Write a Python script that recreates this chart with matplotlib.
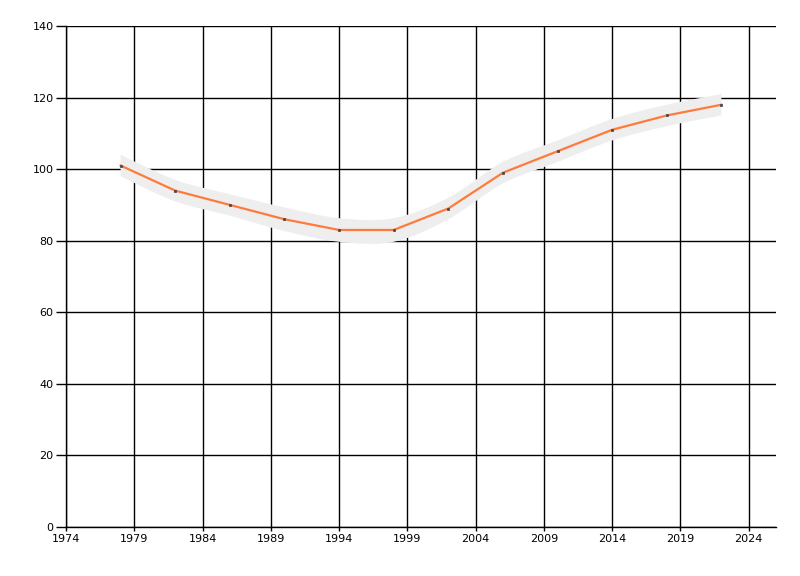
import matplotlib
matplotlib.use("Agg")
import matplotlib.pyplot as plt
from matplotlib.path import Path
from matplotlib.patches import PathPatch
import numpy as np

years = [1978, 1982, 1986, 1990, 1994, 1998, 2002, 2006, 2010, 2014, 2018, 2022]
values = [101, 94, 90, 86, 83, 83, 89, 99, 105, 111, 115, 118]
upper = [104, 97, 93, 89.3, 86.3, 86.3, 92, 102, 108, 114, 118, 121]
lower = [98, 91, 87, 82.7, 79.7, 79.7, 86, 96, 102, 108, 112, 115]
x_ticks = [1974, 1979, 1984, 1989, 1994, 1999, 2004, 2009, 2014, 2019, 2024]
y_ticks = [0, 20, 40, 60, 80, 100, 120, 140]


def smooth_verts(xs, ys, tension=0.5):
    """Cardinal spline through points expressed as cubic Bezier control points."""
    pts = list(zip(xs, ys))
    n = len(pts)
    verts = [pts[0]]
    codes = [Path.MOVETO]
    for i in range(n - 1):
        p0 = pts[i - 1] if i > 0 else pts[i]
        p1 = pts[i]
        p2 = pts[i + 1]
        p3 = pts[i + 2] if i + 2 < n else pts[i + 1]
        c1 = (p1[0] + (p2[0] - p0[0]) * tension / 3, p1[1] + (p2[1] - p0[1]) * tension / 3)
        c2 = (p2[0] - (p3[0] - p1[0]) * tension / 3, p2[1] - (p3[1] - p1[1]) * tension / 3)
        verts += [c1, c2, p2]
        codes += [Path.CURVE4] * 3
    return verts, codes


fig = plt.figure(figsize=(8, 5.76), dpi=100)
ax = fig.add_axes([66 / 800, 49 / 576, 710 / 800, 501 / 576])

# band
uv, uc = smooth_verts(years, upper)
lv, lc = smooth_verts(years[::-1], lower[::-1])
verts = uv + [lv[0]] + lv[1:] + [uv[0]]
codes = uc + [Path.LINETO] + lc[1:] + [Path.CLOSEPOLY]
band = PathPatch(Path(verts, codes), facecolor="#EEEEEE", edgecolor="none", zorder=2)
ax.add_patch(band)

ax.plot(years, values, color="#FF7A3D", lw=1.6, zorder=4,
        marker="s", markersize=1.6, markerfacecolor="#444444", markeredgecolor="#444444",
        markeredgewidth=0.5)

ax.set_xlim(1974, 2026)
ax.set_ylim(0, 140)
ax.set_xticks(x_ticks)
ax.set_yticks(y_ticks)
ax.grid(True, color="black", lw=1.0, zorder=1)
ax.set_axisbelow(True)
for s in ["top", "right"]:
    ax.spines[s].set_visible(False)
for s in ["left", "bottom"]:
    ax.spines[s].set_linewidth(1.0)
ax.tick_params(axis="y", length=7, width=1.0, labelsize=8, pad=2, colors="black")
ax.tick_params(axis="x", length=3, width=1.0, labelsize=8, pad=2, colors="black")

fig.savefig("out.png", dpi=100)
